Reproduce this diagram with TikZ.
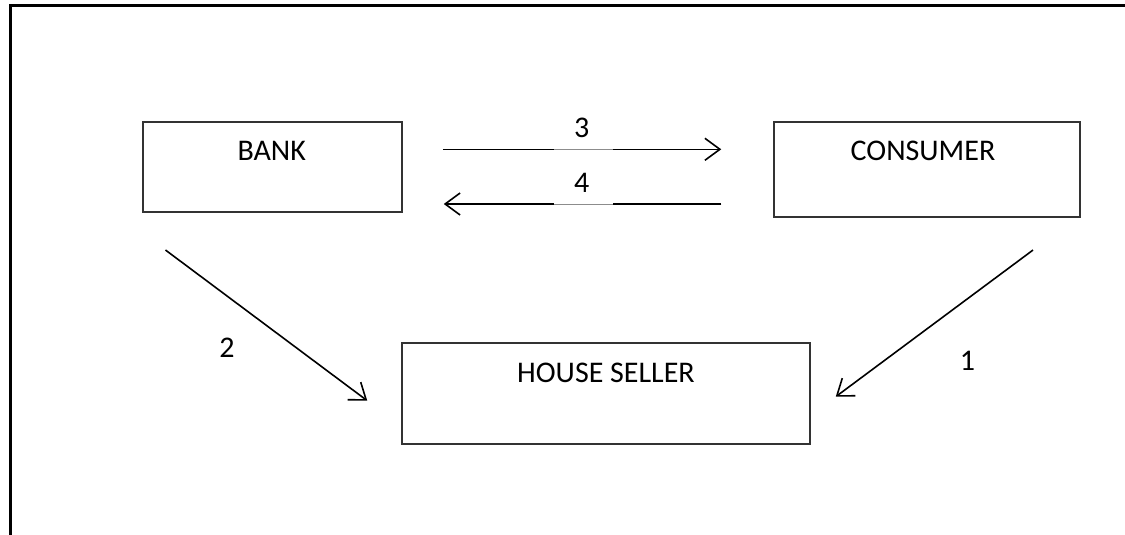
\documentclass[tikz,border=0pt]{standalone}
\usepackage{fontspec}
\setmainfont{Carlito}
\usetikzlibrary{arrows.meta,calc}
\begin{document}
\begin{tikzpicture}[x=1pt,y=-1pt,
  box/.style={draw=black!80,line width=1.5pt,rectangle,inner sep=0pt},
  lbl/.style={font=\fontsize{30}{33}\selectfont,inner sep=0pt},
  flow/.style={draw=black,line width=1.6pt,
    -{Straight Barb[length=15pt,width=22pt,line width=1.6pt]}},
  gapline/.style={draw=black!45,line width=0.8pt}]
\useasboundingbox (0,0) rectangle (1125,535);
% page frame (open at the bottom and on the right)
\draw[line width=3pt] (10.5,535) -- (10.5,6) -- (1125,6);

% boxes
\node[box,minimum width=259pt,minimum height=90pt] (bank) at (272.5,167) {};
\node[box,minimum width=306pt,minimum height=95pt] (consumer) at (927,169.5) {};
\node[box,minimum width=408pt,minimum height=101pt] (seller) at (606,393.5) {};

% box captions
\node[lbl] (banktxt) at (271.7,151) {BANK};
\node[lbl] (constxt) at (923,151) {CONSUMER};
\node[lbl] (selltxt) at (606,372.5) {HOUSE SELLER};

% flows between bank and consumer
\coordinate (a3s) at ($(bank.east)+(40,-17.7)$);
\coordinate (a3e) at ($(consumer.west)+(-52,-20.2)$);
\coordinate (a4s) at ($(consumer.west)+(-52,34.5)$);
\coordinate (a4e) at ($(bank.east)+(41,37)$);
\draw[flow] (a3s) -- (a3e);
\draw[flow] (a4s) -- (a4e);
% label gaps: a thin grey run where the number sits
\draw[white,line width=2.5pt] (554,149.3) -- (613,149.3);
\draw[gapline] (554,149.3) -- (613,149.3);
\draw[white,line width=2.5pt] (554,204) -- (613,204);
\draw[gapline] (554,204) -- (613,204);
\node[lbl] (n3) at (581.7,127.5) {3};
\node[lbl] (n4) at (581.7,182.5) {4};

% flows into the house seller
\coordinate (a2s) at ($(bank.south)+(-107,37.3)$);
\coordinate (a2e) at ($(seller.west)+(-34,7.2)$);
\coordinate (a1s) at ($(consumer.south)+(106,32.3)$);
\coordinate (a1e) at ($(seller.east)+(25,3.2)$);
\draw[flow] (a2s) -- (a2e);
\draw[flow] (a1s) -- (a1e);
\node[lbl] (n2) at (227,348) {2};
\node[lbl] (n1) at (967.5,361) {1};
\end{tikzpicture}
\end{document}
